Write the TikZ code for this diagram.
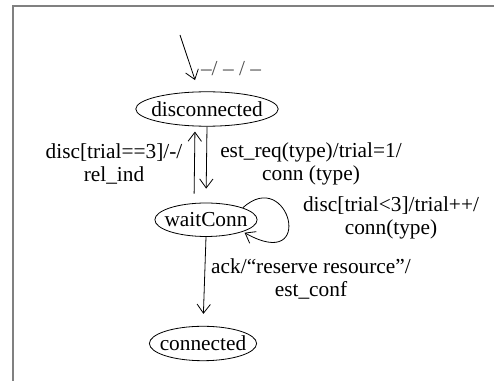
\documentclass[tikz,border=0pt]{standalone}
\usepackage{fontspec}
\setmainfont{Liberation Serif}
\usetikzlibrary{positioning,shapes.geometric,arrows.meta}

\tikzset{
  state/.style={draw, ellipse, inner xsep=-4pt, inner ysep=3.5pt, line width=0.6pt},
  trans/.style={->, line width=0.6pt},
  lbl/.style={align=center},
}

\begin{document}
\begin{tikzpicture}[x=0.75pt, y=-0.75pt, >={Straight Barb[length=6.75pt,width=10pt]}, font=\fontsize{16}{17.5}\selectfont]
  \useasboundingbox (0,0) rectangle (494,381);
  % frame
  \draw[gray, line width=1.5pt] (12.5,381) -- (12.5,6.5) -- (494,6.5);

  \node[state] at (207,109) (disconnected) {disconnected};
  \node[state] (waitConn) [below=57pt of disconnected, xshift=-0.75pt] {waitConn};
  \node[state] (connected) [below=66.75pt of waitConn, xshift=-2.25pt] {connected};

  \coordinate (init) at (180,35);
  \draw[trans, shorten >=9pt] (init) -- (disconnected.115);
  \node[lbl, text=black!70] at (231,69) (lbl_init) {–/ – / –};

  \draw[trans, shorten <=6.75pt, shorten >=3.75pt] ([xshift=-9pt]waitConn.north) -- ([xshift=-9pt]disconnected.south);
  \draw[trans, shorten >=10.5pt] (disconnected.south) -- (waitConn.north);
  \draw[trans, shorten >=1.5pt] (waitConn.18) .. controls +(46,-42) and +(74,42) .. (waitConn.-18);
  \draw[trans, shorten >=9pt] (waitConn.south) -- (connected.north);

  \node[lbl] at (114,164) (lbl_rel) {disc[trial==3]/-/\\rel\_ind};
  \node[lbl] at (311,164) (lbl_req) {est\_req(type)/trial=1/\\conn (type)};
  \node[lbl] at (391,218) (lbl_retry) {disc[trial<3]/trial++/\\conn(type)};
  \node[lbl] at (311,279) (lbl_ack) {ack/“reserve resource”/\\est\_conf};
\end{tikzpicture}
\end{document}
